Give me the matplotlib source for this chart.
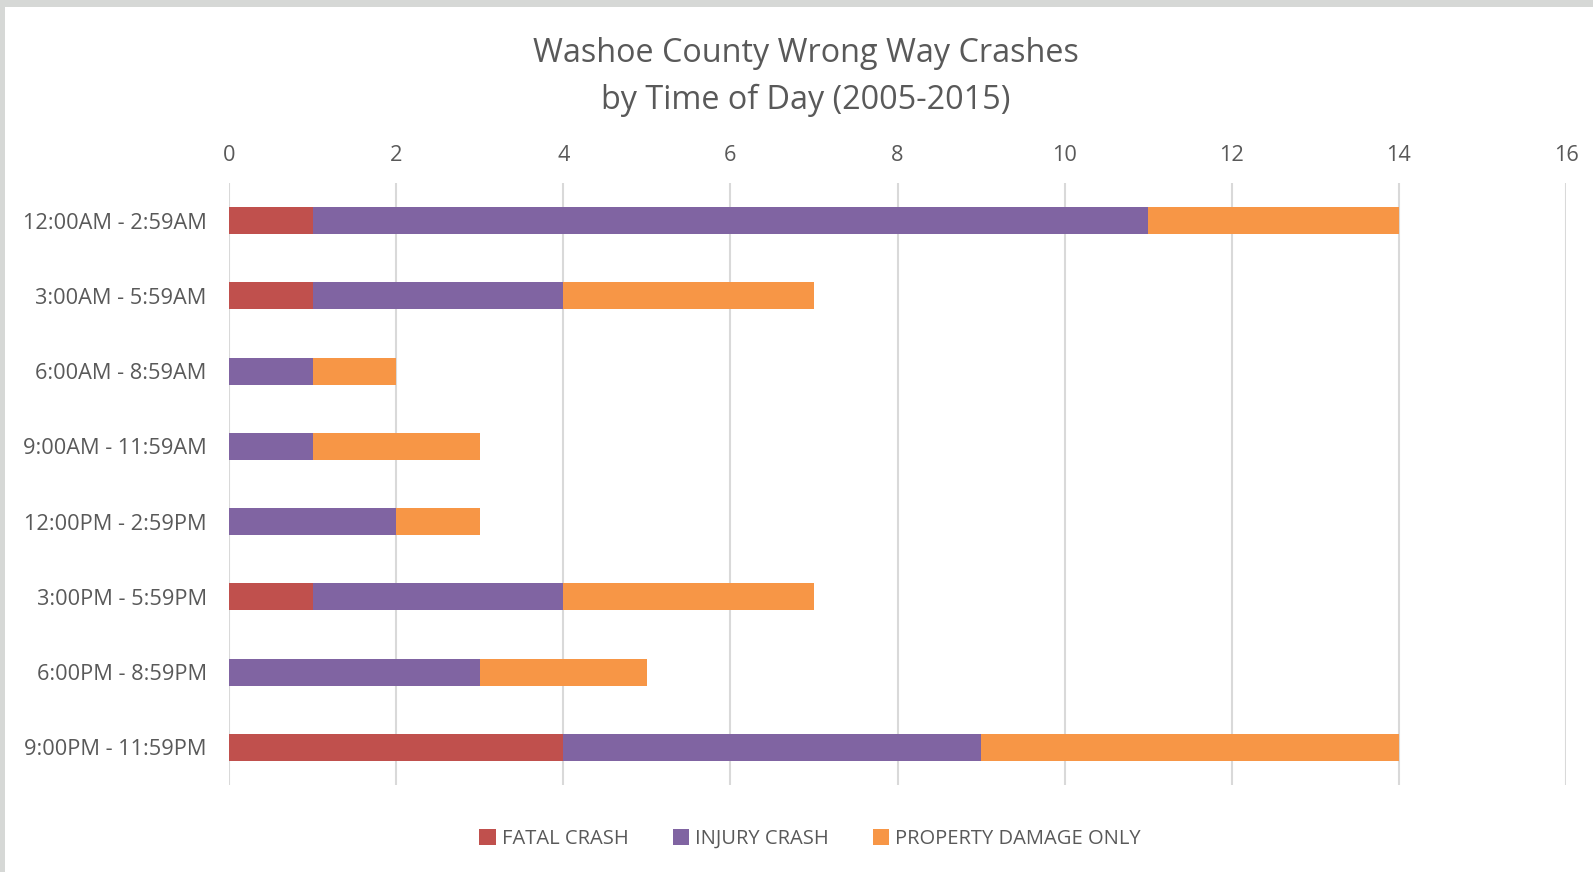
import matplotlib
matplotlib.use("Agg")
import matplotlib.pyplot as plt
from matplotlib.patches import Rectangle
import numpy as np

plt.rcParams["font.family"] = ["Open Sans", "DejaVu Sans"]

# ---------- 数据 ----------
time_slots = ["12:00AM - 2:59AM", "3:00AM - 5:59AM", "6:00AM - 8:59AM",
              "9:00AM - 11:59AM", "12:00PM - 2:59PM", "3:00PM - 5:59PM",
              "6:00PM - 8:59PM", "9:00PM - 11:59PM"]
fatal = [1, 1, 0, 0, 0, 1, 0, 4]
injury = [10, 3, 1, 1, 2, 3, 3, 5]
property_only = [3, 3, 1, 2, 1, 3, 2, 5]
series_names = ["FATAL CRASH", "INJURY CRASH", "PROPERTY DAMAGE ONLY"]
series_colors = ["#C0504D", "#8064A2", "#F79646"]

TEXT = "#595959"
GRID = "#D9D9D9"

fig = plt.figure(figsize=(15.93, 8.72), dpi=100, facecolor="#D6D8D6")
# 白色图表区（原图边缘露出一点背景照片）
fig.patches.append(Rectangle((5 / 1593, 0), 1, 1 - 7 / 872, transform=fig.transFigure,
                             facecolor="white", edgecolor="none", zorder=-5))

ax = fig.add_axes([229 / 1593, 1 - 785 / 872, (1566 - 229) / 1593, (785 - 183) / 872])
ax.set_facecolor("white")

y = np.arange(len(time_slots))
left = np.zeros(len(time_slots))
for vals, name, color in zip([fatal, injury, property_only], series_names, series_colors):
    ax.barh(y, vals, left=left, height=0.36, color=color, label=name, zorder=3)
    left += np.array(vals)

ax.set_xlim(0, 16)
ax.set_ylim(len(time_slots) - 0.5, -0.5)
ax.set_xticks(range(0, 17, 2))
ax.xaxis.tick_top()
ax.set_yticks(y)
ax.set_yticklabels(time_slots)
ax.tick_params(axis="both", length=0, labelsize=15.7, colors=TEXT)
ax.tick_params(axis="x", pad=12)
ax.tick_params(axis="y", pad=16)
ax.grid(axis="x", color=GRID, linewidth=1.5, zorder=0)
for s in ax.spines.values():
    s.set_visible(False)

fig.text(806 / 1593, 1 - 54 / 872, "Washoe County Wrong Way Crashes", ha="center", va="center",
         fontsize=23.3, color=TEXT)
fig.text(806 / 1593, 1 - 100 / 872, "by Time of Day (2005-2015)", ha="center", va="center",
         fontsize=23.3, color=TEXT)

fig.legend(loc="center", bbox_to_anchor=(810 / 1593, 1 - 839 / 872), ncol=3, frameon=False,
           fontsize=14.5, labelcolor=TEXT, handlelength=0.8, handleheight=0.8,
           handletextpad=0.3, columnspacing=2.2)

fig.savefig("out.png", dpi=100, facecolor=fig.get_facecolor())
